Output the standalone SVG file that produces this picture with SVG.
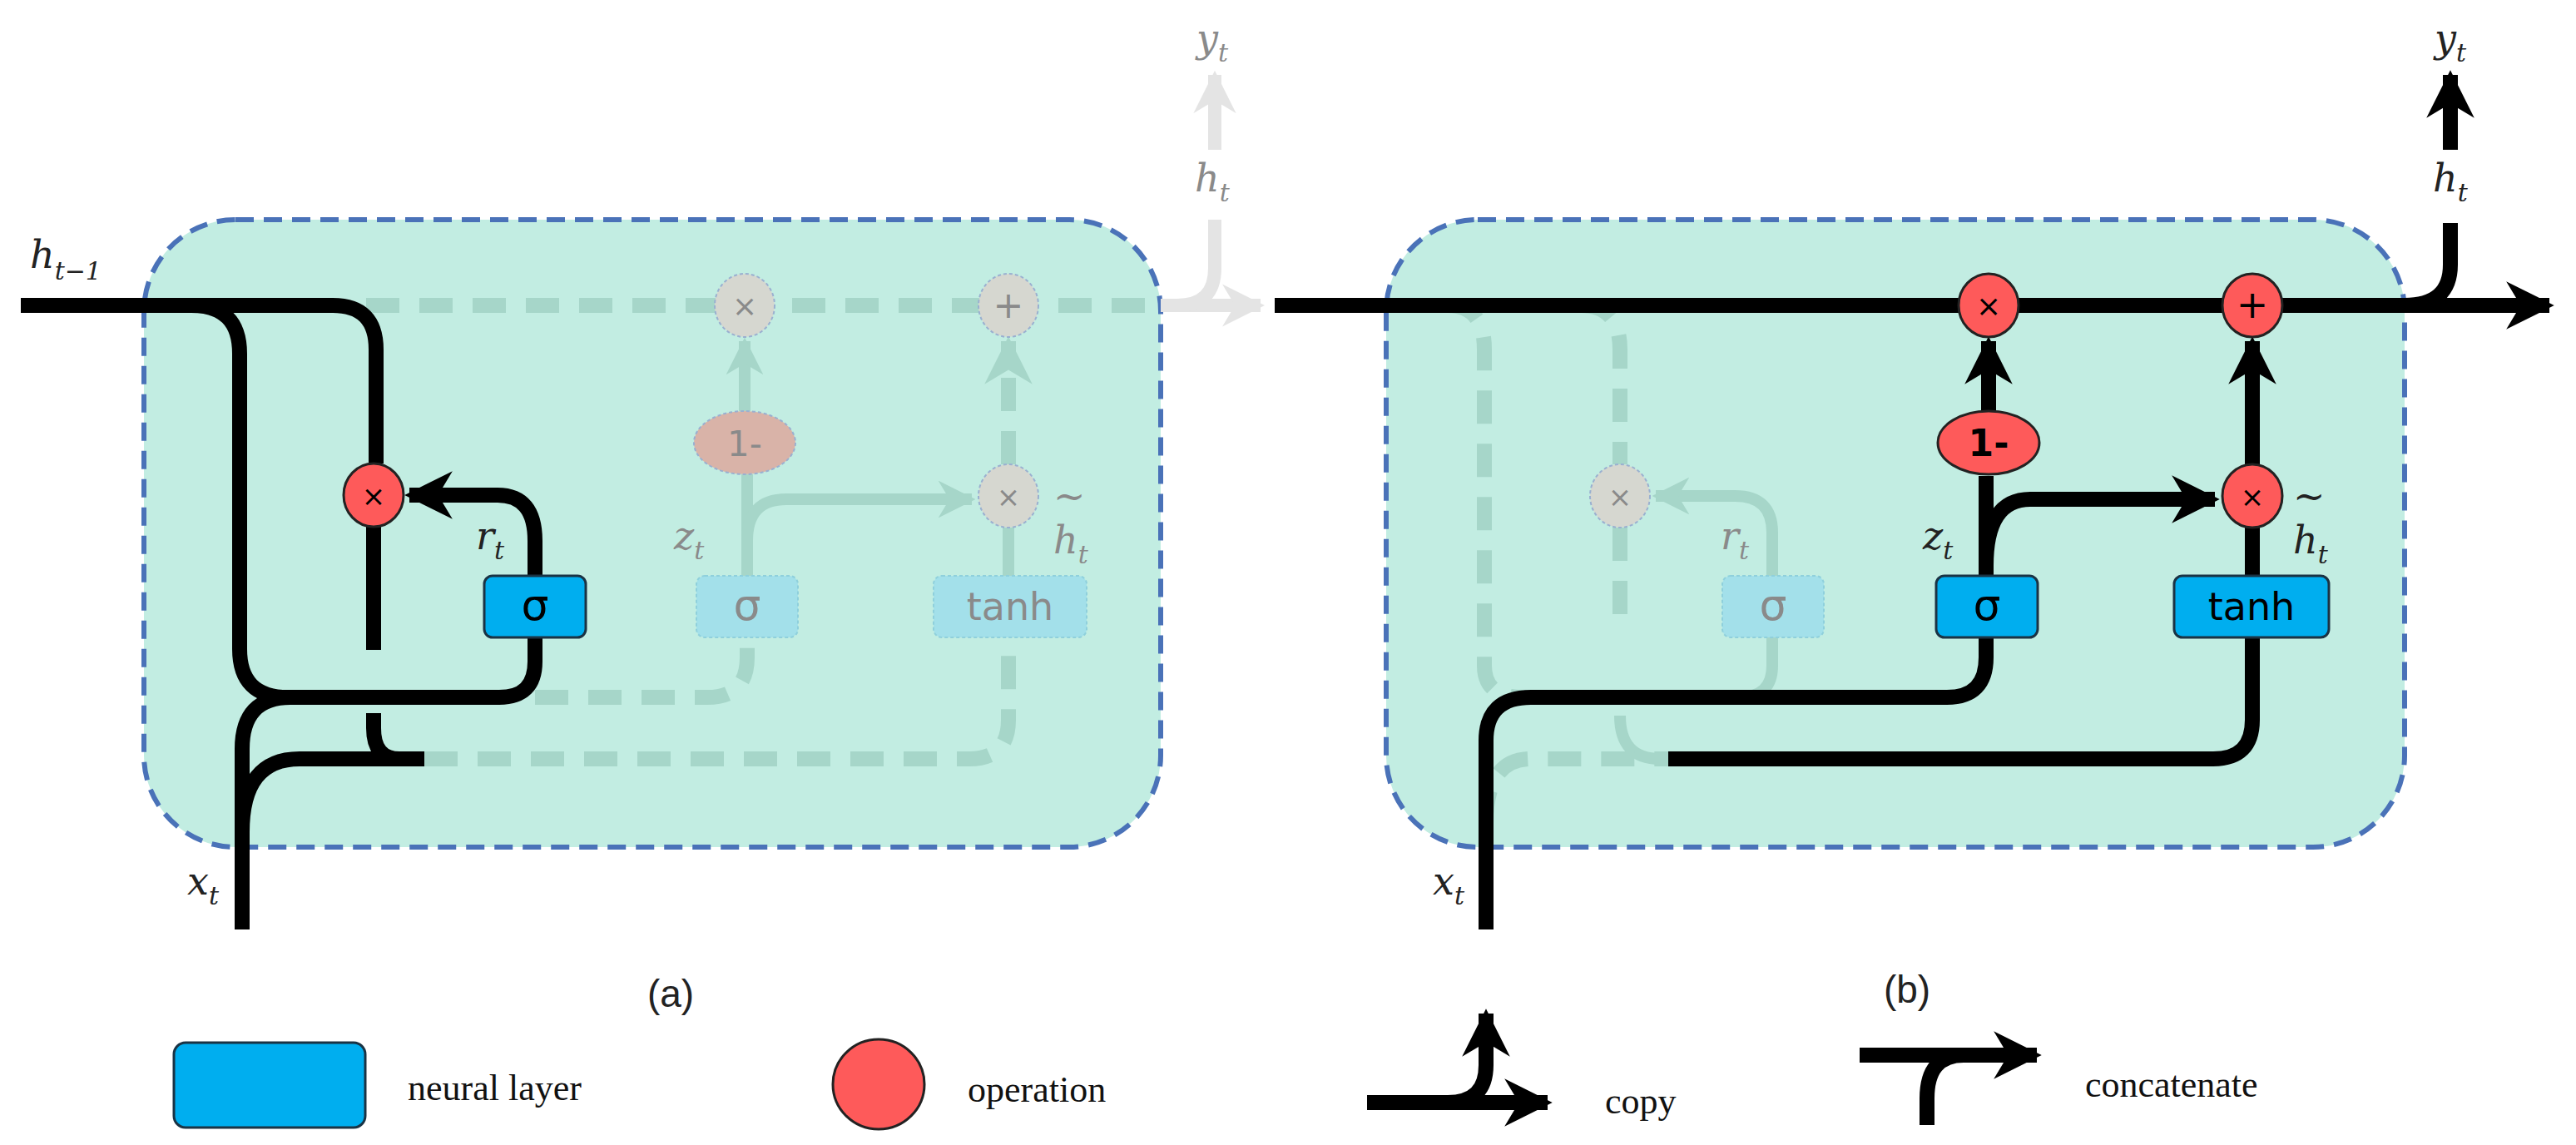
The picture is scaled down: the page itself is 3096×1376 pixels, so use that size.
<svg xmlns="http://www.w3.org/2000/svg" width="3096" height="1376" viewBox="0 0 3096 1376">
<style>
.cell{fill:#c2ede2;stroke:#4a72b8;stroke-width:6;stroke-dasharray:22 12}
.blk{fill:none;stroke:#000;stroke-width:18;stroke-linecap:butt}
.dsh{fill:none;stroke:#a6d6c9;stroke-width:18;stroke-dasharray:40 24}
.fad{fill:none;stroke:#a6d6c9;stroke-width:14}
.lg{fill:none;stroke:#e4e4e4;stroke-width:16}
.op{fill:#fe5a5a;stroke:#222;stroke-width:3}
.fop{fill:#d6d7d0;stroke:#9ab0d0;stroke-width:2;stroke-dasharray:4 3}
.lay{fill:#00aeef;stroke:#1a3344;stroke-width:3}
.flay{fill:#a3e0ea;stroke:#8fd0dc;stroke-width:2;stroke-dasharray:4 3}
.v{font-family:"DejaVu Serif","Liberation Serif",serif;font-style:italic;font-size:46px;fill:#222}
.vs{font-family:"DejaVu Serif","Liberation Serif",serif;font-style:italic;font-size:30px;fill:#222}
.g{fill:#8a8a8a}
.sans{font-family:"DejaVu Sans","Liberation Sans",sans-serif;text-anchor:middle}
.lt{font-family:"Liberation Serif",serif;font-size:44px;fill:#111}
.cap{font-family:"Liberation Sans",sans-serif;font-size:46px;fill:#222;text-anchor:middle}
</style>
<defs>
<marker id="ah" viewBox="0 0 10 10" refX="9" refY="5" markerWidth="3.2" markerHeight="3.2" orient="auto" markerUnits="strokeWidth"><path d="M0,0 L10,5 L0,10 L3,5 Z" fill="#000"/></marker>
<marker id="ahf" viewBox="0 0 10 10" refX="9" refY="5" markerWidth="3.2" markerHeight="3.2" orient="auto" markerUnits="strokeWidth"><path d="M0,0 L10,5 L0,10 L3,5 Z" fill="#a6d6c9"/></marker>
<marker id="ahg" viewBox="0 0 10 10" refX="9" refY="5" markerWidth="3.2" markerHeight="3.2" orient="auto" markerUnits="strokeWidth"><path d="M0,0 L10,5 L0,10 L3,5 Z" fill="#e4e4e4"/></marker>
</defs>
<rect width="3096" height="1376" fill="#fff"/>
<rect id="cell-a" class="cell" x="173" y="264" width="1222" height="754" rx="110"/>
<rect id="cell-b" class="cell" x="1666" y="264" width="1224" height="754" rx="110"/>
<g id="connectors">
<path class="dsh" d="M440 367 H1395"/>
<path class="lg" d="M1395 367 H1515" marker-end="url(#ahg)"/>
<path class="lg" d="M1415 367 Q1460 367 1460 322 V264"/>
<path class="lg" d="M1460 180 V90" marker-end="url(#ahg)"/>
<path class="dsh" d="M643 838 H850 Q898 838 898 790 V766"/>
<path class="fad" d="M898 692 V570"/>
<path class="fad" d="M898 650 Q898 600 945 600 H1168" marker-end="url(#ahf)"/>
<path class="fad" d="M895 494 V410" marker-end="url(#ahf)"/>
<path class="dsh" d="M1212 558 V410" marker-end="url(#ahf)"/>
<path class="fad" d="M1212 692 V634"/>
<path class="dsh" d="M510 912 H1165 Q1212 912 1212 865 V766"/>
<path class="blk" d="M25 367 H230 Q288 367 288 425 V780 Q288 838 346 838 H600 Q643 838 643 795 V766"/>
<path class="blk" d="M230 367 H400 Q452 367 452 420 V557"/>
<path class="blk" d="M449 633 V781"/>
<path class="blk" d="M643 692 V650 Q643 595 598 595 H492" marker-end="url(#ah)"/>
<path class="blk" d="M291 1117 V900 Q291 838 349 838"/>
<path class="blk" d="M291 1000 Q291 912 360 912 H510"/>
<path class="blk" d="M449 857 V875 Q449 912 480 912"/>
<path class="dsh" d="M1740 367 Q1784 367 1784 420 V800 Q1784 838 1830 838"/>
<path class="dsh" d="M1900 367 Q1947 367 1947 420 V558"/>
<path class="dsh" d="M1947 634 V760"/>
<path class="fad" d="M1947 860 Q1947 912 1995 912"/>
<path class="dsh" d="M1786 990 Q1786 912 1840 912 H2005"/>
<path class="fad" d="M2130 766 V800 Q2130 838 2090 838"/>
<path class="fad" d="M2130 692 V640 Q2130 596 2085 596 H1990" marker-end="url(#ahf)"/>
<path class="blk" d="M1532 367 H3064" marker-end="url(#ah)"/>
<path class="blk" d="M2890 367 Q2945 367 2945 318 V268"/>
<path class="blk" d="M2945 180 V90" marker-end="url(#ah)"/>
<path class="blk" d="M1786 1117 V890 Q1786 838 1840 838 H2340 Q2387 838 2387 790 V766"/>
<path class="blk" d="M2387 692 V572"/>
<path class="blk" d="M2390 496 V410" marker-end="url(#ah)"/>
<path class="blk" d="M2387 680 Q2387 600 2440 600 H2662" marker-end="url(#ah)"/>
<path class="blk" d="M2005 912 H2660 Q2707 912 2707 865 V766"/>
<path class="blk" d="M2707 692 V634"/>
<path class="blk" d="M2707 558 V410" marker-end="url(#ah)"/>
<path class="blk" d="M1643 1325 H1860" marker-end="url(#ah)"/>
<path class="blk" d="M1740 1325 Q1786 1325 1786 1280 V1218" marker-end="url(#ah)"/>
<path class="blk" d="M2235 1268 H2448" marker-end="url(#ah)"/>
<path class="blk" d="M2316 1352 V1320 Q2316 1268 2360 1268"/>
</g>
<g id="op-a-r"><ellipse class="op" cx="449" cy="595" rx="36" ry="38"/><text class="sans" x="449" y="608" font-size="34">×</text></g>
<g id="layer-a-r"><rect class="lay" x="582" y="692" width="122" height="74" rx="10"/><text class="sans" x="643" y="745" font-size="52">σ</text></g>
<g id="op-a-x1"><ellipse class="fop" cx="895" cy="367" rx="36" ry="38"/><text class="sans g" x="895" y="380" font-size="36">×</text></g>
<g id="op-a-plus"><ellipse class="fop" cx="1212" cy="367" rx="36" ry="38"/><text class="sans g" x="1212" y="382" font-size="44">+</text></g>
<g id="op-a-1m"><ellipse cx="895" cy="532" rx="61" ry="38" fill="#d9b3a8" stroke="#9ab0d0" stroke-width="2" stroke-dasharray="4 3"/><text class="sans g" x="895" y="548" font-size="42">1-</text></g>
<g id="op-a-x2"><ellipse class="fop" cx="1212" cy="596" rx="36" ry="38"/><text class="sans g" x="1212" y="609" font-size="34">×</text></g>
<g id="layer-a-z"><rect class="flay" x="837" y="692" width="122" height="74" rx="10"/><text class="sans g" x="898" y="745" font-size="52">σ</text></g>
<g id="layer-a-tanh"><rect class="flay" x="1122" y="692" width="184" height="74" rx="10"/><text class="sans g" x="1214" y="745" font-size="46">tanh</text></g>
<g id="op-b-x1"><ellipse class="op" cx="2390" cy="367" rx="36" ry="38"/><text class="sans" x="2390" y="380" font-size="36">×</text></g>
<g id="op-b-plus"><ellipse class="op" cx="2707" cy="367" rx="36" ry="38"/><text class="sans" x="2707" y="382" font-size="46">+</text></g>
<g id="op-b-1m"><ellipse class="op" cx="2390" cy="532" rx="61" ry="38"/><text class="sans" x="2390" y="548" font-size="44" font-weight="bold">1-</text></g>
<g id="op-b-x2"><ellipse class="op" cx="2707" cy="596" rx="36" ry="38"/><text class="sans" x="2707" y="609" font-size="34">×</text></g>
<g id="op-b-xr"><ellipse class="fop" cx="1947" cy="596" rx="36" ry="38"/><text class="sans g" x="1947" y="609" font-size="34">×</text></g>
<g id="layer-b-r"><rect class="flay" x="2070" y="692" width="122" height="74" rx="10"/><text class="sans g" x="2131" y="745" font-size="52">σ</text></g>
<g id="layer-b-z"><rect class="lay" x="2327" y="692" width="122" height="74" rx="10"/><text class="sans" x="2388" y="745" font-size="52">σ</text></g>
<g id="layer-b-tanh"><rect class="lay" x="2613" y="692" width="186" height="74" rx="10"/><text class="sans" x="2706" y="745" font-size="46">tanh</text></g>
<g id="labels">
<text class="v" x="36" y="322">h<tspan class="vs" dy="14">t−1</tspan></text>
<text class="v" x="225" y="1075">x<tspan class="vs" dy="12">t</tspan></text>
<text class="v" x="572" y="660">r<tspan class="vs" dy="12">t</tspan></text>
<text class="v g" x="810" y="660">z<tspan class="vs g" dy="12">t</tspan></text>
<text class="v g" x="1266" y="612">~</text>
<text class="v g" x="1266" y="665">h<tspan class="vs g" dy="12">t</tspan></text>
<text class="v g" x="1438" y="62">y<tspan class="vs g" dy="12">t</tspan></text>
<text class="v g" x="1436" y="230">h<tspan class="vs g" dy="12">t</tspan></text>
<text class="v" x="1722" y="1075">x<tspan class="vs" dy="12">t</tspan></text>
<text class="v g" x="2068" y="660">r<tspan class="vs g" dy="12">t</tspan></text>
<text class="v" x="2311" y="660">z<tspan class="vs" dy="12">t</tspan></text>
<text class="v" x="2756" y="612">~</text>
<text class="v" x="2756" y="665">h<tspan class="vs" dy="12">t</tspan></text>
<text class="v" x="2926" y="62">y<tspan class="vs" dy="12">t</tspan></text>
<text class="v" x="2924" y="230">h<tspan class="vs" dy="12">t</tspan></text>
<text class="cap" x="806" y="1210">(a)</text>
<text class="cap" x="2292" y="1205">(b)</text>
</g>
<g id="legend">
<rect class="lay" x="209" y="1253" width="230" height="102" rx="14"/>
<text class="lt" x="490" y="1322">neural layer</text>
<ellipse class="op" cx="1056" cy="1303" rx="55" ry="54"/>
<text class="lt" x="1163" y="1324">operation</text>
<text class="lt" x="1929" y="1338">copy</text>
<text class="lt" x="2506" y="1318">concatenate</text>
</g>
</svg>
